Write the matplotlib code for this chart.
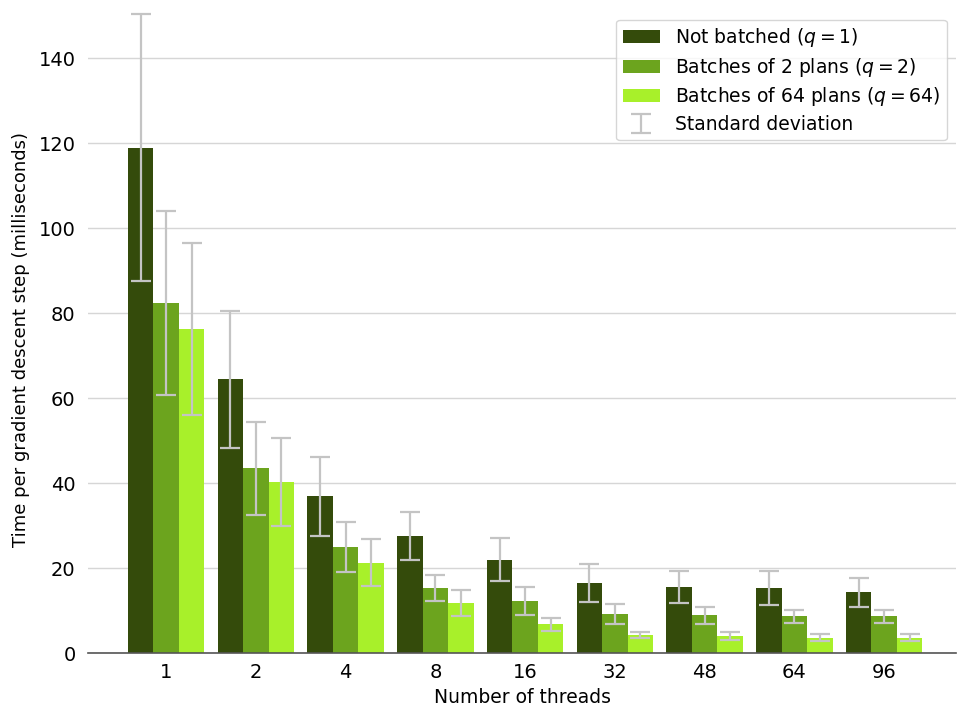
import numpy as np
import matplotlib.pyplot as plt

threads = ['1', '2', '4', '8', '16', '32', '48', '64', '96']

# mean time per step (ms) and standard deviation, per batching mode
mean_q1 = [118.9, 64.4, 36.9, 27.6, 22.0, 16.5, 15.6, 15.3, 14.3]
std_q1 = [31.4, 16.0, 9.3, 5.7, 5.0, 4.5, 3.8, 4.0, 3.3]
mean_q2 = [82.4, 43.5, 25.0, 15.3, 12.4, 9.3, 9.0, 8.7, 8.7]
std_q2 = [21.6, 11.0, 5.9, 3.1, 3.3, 2.3, 2.0, 1.5, 1.5]
mean_q64 = [76.3, 40.3, 21.3, 11.8, 6.8, 4.3, 4.1, 3.7, 3.7]
std_q64 = [20.2, 10.4, 5.5, 3.0, 1.5, 0.8, 1.0, 0.85, 0.85]

labels = ['Not batched ($q=1$)', 'Batches of 2 plans ($q=2$)',
          'Batches of 64 plans ($q=64$)']
colors = ['#344b0b', '#6ca41e', '#a8f02a']

fig = plt.figure(figsize=(9.57, 7.07), dpi=100)
ax = fig.add_axes([0.092, 0.076, 0.907, 0.914])

x = np.arange(len(threads))
w = 0.284
handles = []
for i, (m, s) in enumerate([(mean_q1, std_q1), (mean_q2, std_q2), (mean_q64, std_q64)]):
    pos = x + (i - 1) * w
    b = ax.bar(pos, m, width=w, color=colors[i], label=labels[i], zorder=2)
    handles.append(b)
    eb = ax.errorbar(pos, m, yerr=s, fmt='none', ecolor='#c4c4c4', elinewidth=1.6,
                     capsize=7, capthick=1.6, zorder=3,
                     label='Standard deviation')
    if i == 0:
        err_handle = eb
handles.append(err_handle)

ax.set_xlim(-0.87, 8.8)
ax.set_ylim(0, 152)
ax.set_yticks(range(0, 141, 20))
ax.set_xticks(x)
ax.set_xticklabels(threads)
ax.tick_params(axis='both', length=0, labelsize=14)
ax.tick_params(axis='x', pad=7)
ax.tick_params(axis='y', pad=9)
ax.yaxis.grid(True, color='#d6d6d6', linewidth=1, zorder=0)
ax.set_axisbelow(True)
for side in ['top', 'right', 'left']:
    ax.spines[side].set_visible(False)
ax.spines['bottom'].set_color('#555555')
ax.spines['bottom'].set_linewidth(1.2)

ax.set_xlabel('Number of threads', fontsize=13.5, labelpad=4)
ax.set_ylabel('Time per gradient descent step (milliseconds)', fontsize=13)
ax.yaxis.set_label_coords(-0.067, 0.485)

leg = ax.legend(handles=handles, loc='upper right', fontsize=13.5, frameon=True,
                fancybox=True, edgecolor='#cccccc', borderpad=0.35,
                handlelength=2.0, handletextpad=0.8, labelspacing=0.35,
                bbox_to_anchor=(1.0, 0.995))
leg.get_frame().set_linewidth(1)

fig.savefig('out.png', dpi=100)
